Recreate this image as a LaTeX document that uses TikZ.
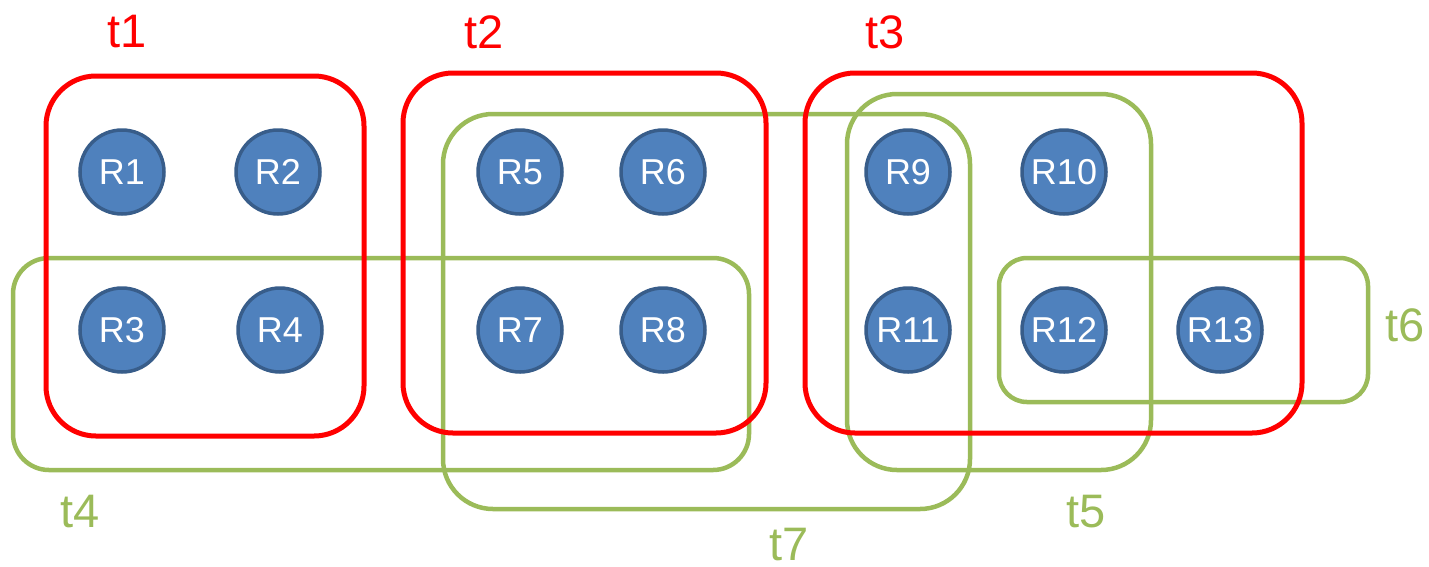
\documentclass[tikz,border=0pt]{standalone}
\usepackage{fontspec}
\setmainfont{Liberation Sans}
\definecolor{tred}{HTML}{FF0000}
\definecolor{tgreen}{HTML}{9BBB59}
\definecolor{rfill}{HTML}{4F81BD}
\definecolor{rline}{HTML}{385D8A}
\begin{document}
\begin{tikzpicture}[x=1pt,y=-1pt,
  redset/.style={draw=tred,line width=5pt},
  greenset/.style={draw=tgreen,line width=4.5pt},
  router/.style={circle,fill=rfill,draw=rline,line width=3.5pt,minimum size=84pt,inner sep=0pt,text=white,font=\fontsize{36}{36}\selectfont},
  redlab/.style={text=tred,font=\fontsize{47}{47}\selectfont},
  greenlab/.style={text=tgreen,font=\fontsize{47}{47}\selectfont}]
\useasboundingbox (0,0) rectangle (1429,566);
% green sets
\draw[greenset,rounded corners=36pt] (13,258) rectangle (749,470);
\draw[greenset,rounded corners=50pt] (443,114) rectangle (970,509);
\draw[greenset,rounded corners=50pt] (847,94) rectangle (1151,470);
\draw[greenset,rounded corners=28pt] (999,258) rectangle (1368,402);
% red sets
\draw[redset,rounded corners=50pt] (46,76) rectangle (364,436);
\draw[redset,rounded corners=50pt] (403,73) rectangle (766,433);
\draw[redset,rounded corners=50pt] (805,73) rectangle (1302,433);
% routers
\node[router] (R1) at (122,172) {R1};
\node[router] (R2) at (278,172) {R2};
\node[router] (R3) at (122,330) {R3};
\node[router] (R4) at (280,330) {R4};
\node[router] (R5) at (520,172) {R5};
\node[router] (R6) at (663,172) {R6};
\node[router] (R7) at (520,330) {R7};
\node[router] (R8) at (663,330) {R8};
\node[router] (R9) at (908,172) {R9};
\node[router] (R10) at (1064,172) {R10};
\node[router] (R11) at (908,330) {R11};
\node[router] (R12) at (1064,330) {R12};
\node[router] (R13) at (1220,330) {R13};
% labels
\node[redlab] (t1) at (127,32) {t1};
\node[redlab] (t2) at (484,32) {t2};
\node[redlab] (t3) at (885,32) {t3};
\node[greenlab] (t4) at (80,512) {t4};
\node[greenlab] (t5) at (1086,512) {t5};
\node[greenlab] (t6) at (1405,325) {t6};
\node[greenlab] (t7) at (789,545) {t7};
\end{tikzpicture}
\end{document}
